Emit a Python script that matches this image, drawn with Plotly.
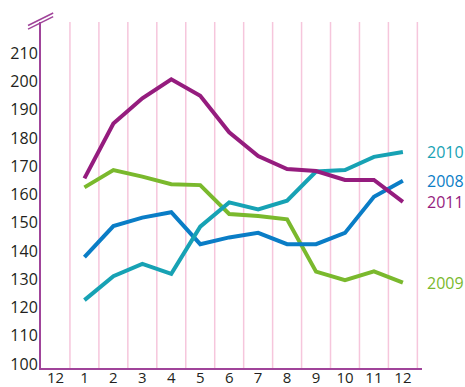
import plotly.graph_objects as go

# ---- data ----
months = [1, 2, 3, 4, 5, 6, 7, 8, 9, 10, 11, 12]
tick_positions = [0, 1, 2, 3, 4, 5, 6, 7, 8, 9, 10, 11, 12]
tick_labels = ["12", "1", "2", "3", "4", "5", "6", "7", "8", "9", "10", "11", "12"]
y_ticks = [100, 110, 120, 130, 140, 150, 160, 170, 180, 190, 200, 210]

s2008 = [137.8, 148.8, 151.8, 153.7, 142.4, 144.8, 146.4, 142.4, 142.4, 146.4, 159.2, 164.8]
s2009 = [162.5, 168.6, 166.3, 163.6, 163.3, 153.1, 152.4, 151.2, 132.7, 129.7, 132.8, 128.8]
s2010 = [122.6, 131.1, 135.4, 131.9, 148.6, 157.2, 154.7, 157.8, 168.1, 168.6, 173.3, 175.0]
s2011 = [165.7, 185.1, 194.0, 200.7, 194.9, 182.0, 173.6, 169.0, 168.3, 165.1, 165.1, 157.4]

series = [
    ("2009", s2009, "#7AB92D"),
    ("2008", s2008, "#0A7DC6"),
    ("2010", s2010, "#17A2B4"),
    ("2011", s2011, "#951C7E"),
]

AXIS_COLOR = "#A0449A"
GRID_COLOR = "#F6C6DC"
TEXT_COLOR = "#231F20"
FONT = "Open Sans"

fig = go.Figure()
for name, vals, color in series:
    fig.add_trace(go.Scatter(
        x=months, y=vals, mode="lines", name=name,
        line=dict(color=color, width=4),
        showlegend=False, hoverinfo="skip",
    ))

shapes = []
# vertical pink grid lines at category boundaries
for p in tick_positions:
    shapes.append(dict(type="line", xref="x", yref="paper",
                       x0=p + 0.5, x1=p + 0.5, y0=0, y1=1,
                       line=dict(color=GRID_COLOR, width=1.5), layer="below"))
# axis break symbol
for dy in (0.0, -0.0105):
    shapes.append(dict(type="line", xref="paper", yref="paper",
                       x0=-0.034, x1=0.032, y0=0.99 + dy, y1=1.026 + dy,
                       line=dict(color=AXIS_COLOR, width=1.5)))

annotations = []
for name, vals, color in series:
    annotations.append(dict(
        x=1.008, xref="paper", y=vals[-1], yref="y",
        text=name, showarrow=False, xanchor="left", yanchor="middle",
        font=dict(family=FONT, size=16, color=color),
    ))

fig.update_layout(
    width=465, height=387,
    margin=dict(l=41, r=43, t=22, b=19, autoexpand=False),
    paper_bgcolor="white", plot_bgcolor="white",
    font=dict(family=FONT, size=16, color=TEXT_COLOR),
    shapes=shapes, annotations=annotations,
    xaxis=dict(
        range=[-0.5, 12.66], tickvals=tick_positions, ticktext=tick_labels,
        showgrid=False, zeroline=False, showline=True, automargin=False,
        linecolor=AXIS_COLOR, linewidth=2, ticks="",
        tickfont=dict(family=FONT, size=15, color=TEXT_COLOR),
        ticklabelstandoff=-5,
    ),
    yaxis=dict(
        range=[98.6, 221], tickvals=y_ticks,
        showgrid=False, zeroline=False, showline=True, automargin=False,
        linecolor=AXIS_COLOR, linewidth=2, ticks="",
        tickfont=dict(family=FONT, size=16, color=TEXT_COLOR),
        ticklabelstandoff=-2,
    ),
)

fig.write_html("out.html")
